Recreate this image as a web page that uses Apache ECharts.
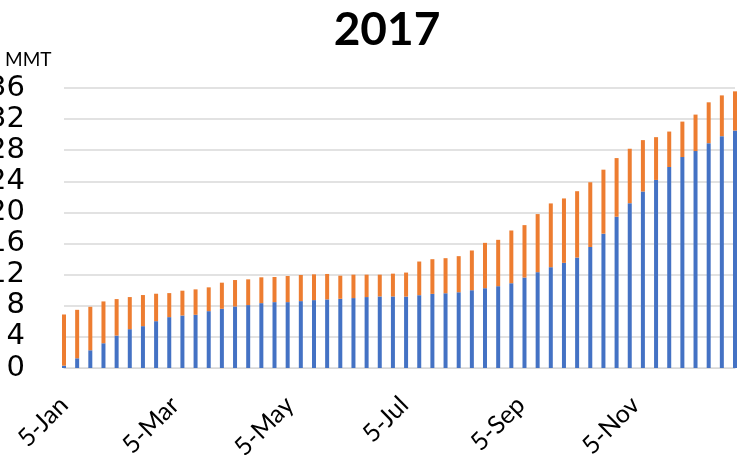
<!DOCTYPE html>
<html>
<head>
    <meta charset="utf-8">
    <title>2017</title>
    <script src="https://cdn.jsdelivr.net/npm/echarts@6/dist/echarts.min.js"></script>
</head>
<body style="margin:0">
<div id="main" style="width: 740px;height:469px;"></div>
<script type="text/javascript">
    // weekly dates (x axis)
    var weeks = [
        '2017-01-05','2017-01-12','2017-01-19','2017-01-26',
        '2017-02-02','2017-02-09','2017-02-16','2017-02-23',
        '2017-03-02','2017-03-09','2017-03-16','2017-03-23','2017-03-30',
        '2017-04-06','2017-04-13','2017-04-20','2017-04-27',
        '2017-05-04','2017-05-11','2017-05-18','2017-05-25',
        '2017-06-01','2017-06-08','2017-06-15','2017-06-22','2017-06-29',
        '2017-07-06','2017-07-13','2017-07-20','2017-07-27',
        '2017-08-03','2017-08-10','2017-08-17','2017-08-24','2017-08-31',
        '2017-09-07','2017-09-14','2017-09-21','2017-09-28',
        '2017-10-05','2017-10-12','2017-10-19','2017-10-26',
        '2017-11-02','2017-11-09','2017-11-16','2017-11-23','2017-11-30',
        '2017-12-07','2017-12-14','2017-12-21','2017-12-28'
    ];
    // lower (blue) part, MMT
    var blueVals = [0.3,1.25,2.28,3.18,4.17,4.99,5.38,6.02,6.54,6.75,6.84,7.31,7.61,
        7.91,8.09,8.34,8.47,8.47,8.6,8.73,8.82,8.9,8.99,9.12,9.2,9.2,
        9.18,9.36,9.53,9.61,9.74,10.0,10.26,10.52,10.9,11.63,12.32,12.96,13.52,
        14.2,15.56,17.27,19.45,21.19,22.69,24.18,25.84,27.12,27.89,28.91,29.81,30.53];
    // upper (orange) part, MMT
    var orangeVals = [6.58,6.23,5.59,5.38,4.69,4.13,4.0,3.53,3.09,3.19,3.27,3.06,3.36,
        3.4,3.31,3.32,3.23,3.36,3.36,3.31,3.27,2.97,3.01,2.88,2.8,2.93,
        3.09,4.33,4.46,4.51,4.64,5.11,5.83,5.96,6.78,6.74,7.47,8.2,8.28,
        8.53,8.32,8.23,7.54,7.0,6.61,5.5,4.56,4.56,4.69,5.25,5.24,5.04];
    // x axis tick labels
    var tickDates = ['2017-01-05','2017-03-05','2017-05-05','2017-07-05','2017-09-05','2017-11-05'];
    var monthNames = ['Jan','Feb','Mar','Apr','May','Jun','Jul','Aug','Sep','Oct','Nov','Dec'];

    function ts(s) {
        var p = s.split('-');
        return new Date(+p[0], +p[1] - 1, +p[2]).getTime();
    }

    var myChart = echarts.init(document.getElementById('main'));
    myChart.setOption({
        animation: false,
        title: [{
            text: '2017',
            left: 382,
            textAlign: 'center',
            top: 2,
            textStyle: {fontFamily: 'Lato', fontWeight: 'bold', fontSize: 46, color: '#000'}
        }, {
            text: 'MMT',
            left: 0,
            top: 45,
            textStyle: {fontFamily: 'Lato', fontWeight: 'normal', fontSize: 19, color: '#000'}
        }],
        grid: {left: 64, right: 5, top: 88, bottom: 101, outerBoundsMode: 'none'},
        xAxis: [{
            // bars: one category per week, ends on the grid edges
            type: 'category',
            data: weeks,
            boundaryGap: false,
            axisLine: {show: true, lineStyle: {color: '#d9d9d9'}},
            axisTick: {show: false},
            axisLabel: {show: false},
            splitLine: {show: false}
        }, {
            // date labels: timestamps over the same span
            type: 'value',
            position: 'bottom',
            min: ts(weeks[0]),
            max: ts(weeks[weeks.length - 1]),
            axisLine: {show: false},
            axisTick: {show: false},
            splitLine: {show: false},
            axisLabel: {
                customValues: tickDates.map(ts),
                rotate: 45,
                margin: 33,
                fontFamily: 'Lato',
                fontSize: 25,
                color: '#000',
                hideOverlap: false,
                formatter: function (v) {
                    var d = new Date(v);
                    return d.getDate() + '-' + monthNames[d.getMonth()];
                }
            }
        }],
        yAxis: {
            type: 'value',
            min: 0,
            max: 36,
            interval: 4,
            axisLine: {show: false},
            axisTick: {show: false},
            splitLine: {lineStyle: {color: '#d9d9d9', width: 1.5}},
            axisLabel: {fontFamily: 'DejaVu Sans', fontSize: 29, color: '#000', margin: 39}
        },
        series: [{
            name: 'blue',
            type: 'bar',
            stack: 'total',
            barWidth: 4,
            clip: false,
            itemStyle: {color: '#4472c4'},
            data: blueVals
        }, {
            name: 'orange',
            type: 'bar',
            stack: 'total',
            barWidth: 4,
            clip: false,
            itemStyle: {color: '#ed7d31'},
            data: orangeVals
        }]
    });
</script>
</body>
</html>
